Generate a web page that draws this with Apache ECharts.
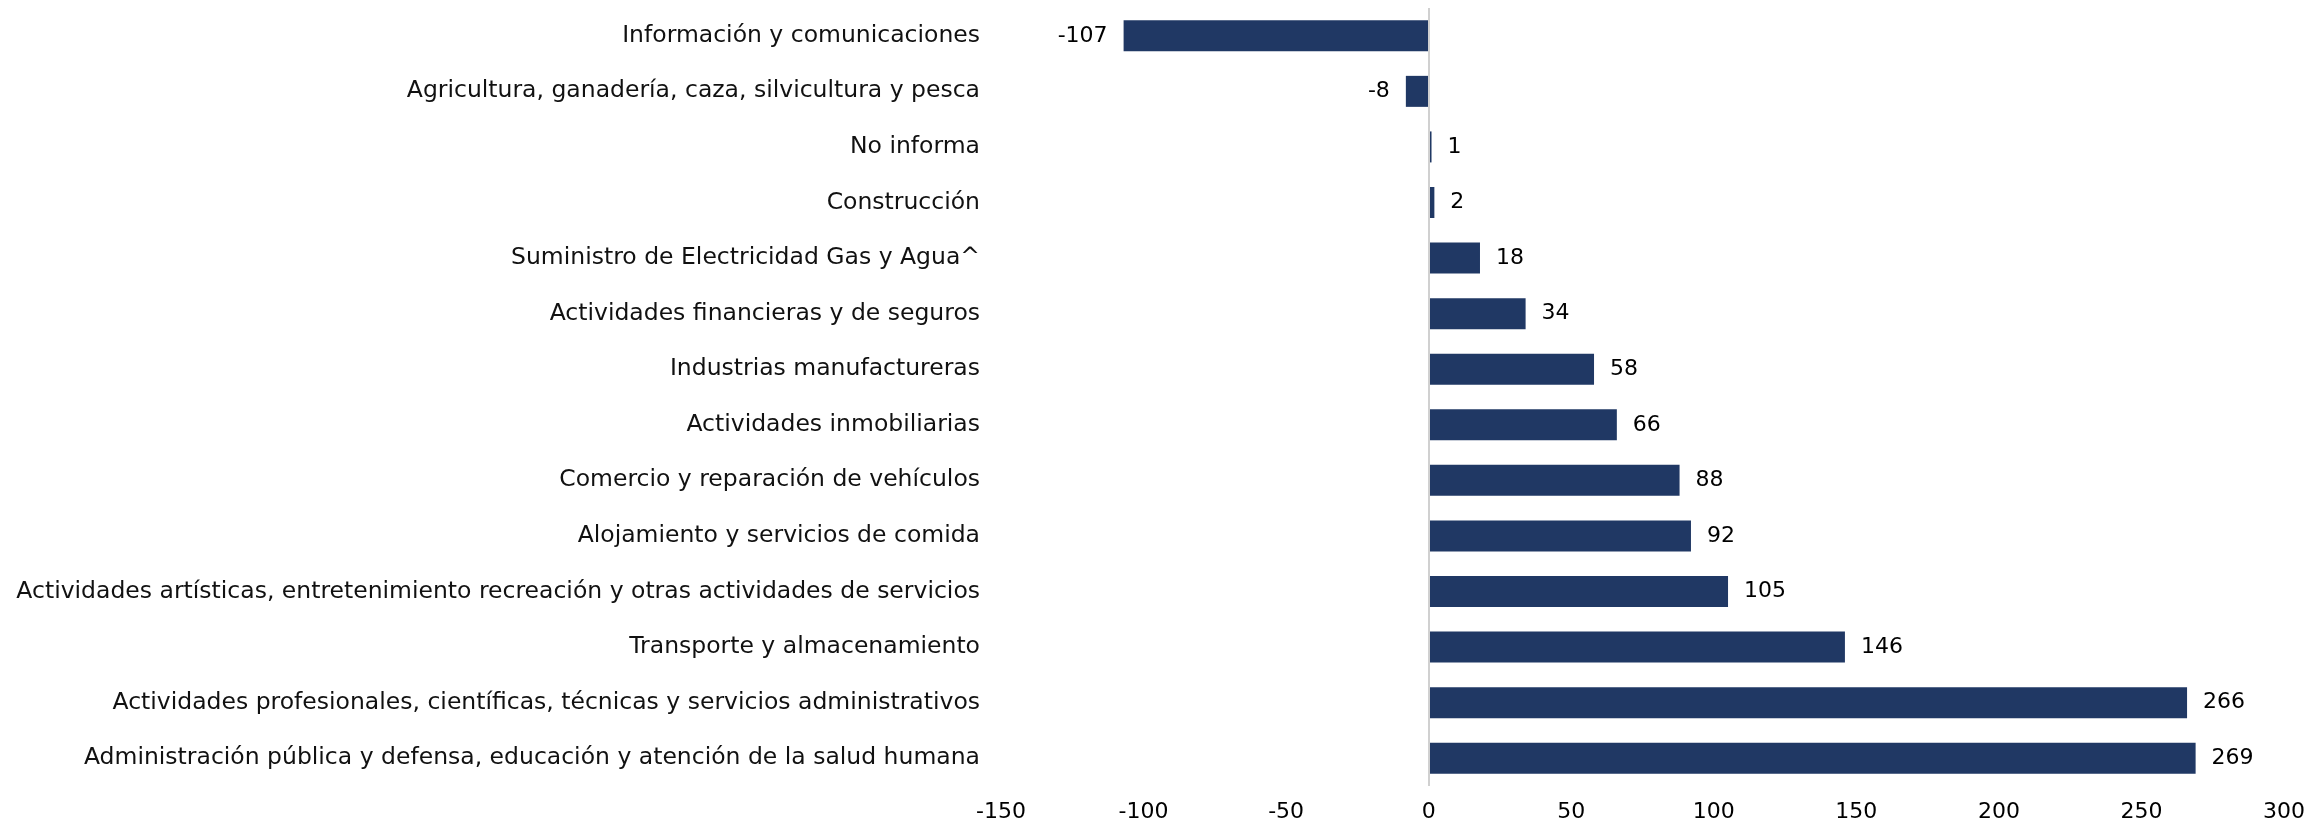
<!DOCTYPE html>
<html>
<head>
<meta charset="utf-8">
<script src="https://cdn.jsdelivr.net/npm/echarts@6/dist/echarts.min.js"></script>
<style>
  html, body { margin: 0; padding: 0; background: #fff; }
  #chart { width: 2308px; height: 825px; }
</style>
</head>
<body>
<div id="chart"></div>
<script>
// categorias, de arriba hacia abajo
var sectores = [
  'Información y comunicaciones',
  'Agricultura, ganadería, caza, silvicultura y pesca',
  'No informa',
  'Construcción',
  'Suministro de Electricidad Gas y Agua^',
  'Actividades financieras y de seguros',
  'Industrias manufactureras',
  'Actividades inmobiliarias',
  'Comercio y reparación de vehículos',
  'Alojamiento y servicios de comida',
  'Actividades artísticas, entretenimiento recreación y otras actividades de servicios',
  'Transporte y almacenamiento',
  'Actividades profesionales, científicas, técnicas y servicios administrativos',
  'Administración pública y defensa, educación y atención de la salud humana'
];
var valores = [-107, -8, 1, 2, 18, 34, 58, 66, 88, 92, 105, 146, 266, 269];
var ejeMin = -150;
var ejeMax = 300;
var ejePaso = 50;

var fuente = '"DejaVu Sans", "Noto Sans", sans-serif';

var chart = echarts.init(document.getElementById('chart'));
chart.setOption({
  backgroundColor: '#ffffff',
  animation: false,
  grid: { left: 1001, right: 24, top: 8, bottom: 39, containLabel: false },
  xAxis: {
    type: 'value',
    min: ejeMin,
    max: ejeMax,
    interval: ejePaso,
    axisLine: { show: false },
    axisTick: { show: false },
    splitLine: { show: false },
    axisLabel: { color: '#000', fontSize: 22, fontFamily: fuente, margin: 15 }
  },
  yAxis: {
    type: 'category',
    inverse: true,
    data: sectores,
    axisLine: { show: false, onZero: false },
    axisTick: { show: false },
    axisLabel: { color: '#111', fontSize: 23.5, fontFamily: fuente, margin: 21 }
  },
  series: [{
    type: 'bar',
    barWidth: 31,
    itemStyle: { color: '#203864' },
    data: valores.map(function (v) {
      return { value: v, label: { position: v < 0 ? 'left' : 'right' } };
    }),
    label: {
      show: true,
      distance: 16,
      color: '#000',
      fontSize: 22,
      fontFamily: fuente
    },
    markLine: {
      silent: true,
      symbol: 'none',
      label: { show: false },
      lineStyle: { color: '#d0d0d0', type: 'solid', width: 2 },
      data: [{ xAxis: 0 }]
    }
  }]
});
</script>
</body>
</html>
